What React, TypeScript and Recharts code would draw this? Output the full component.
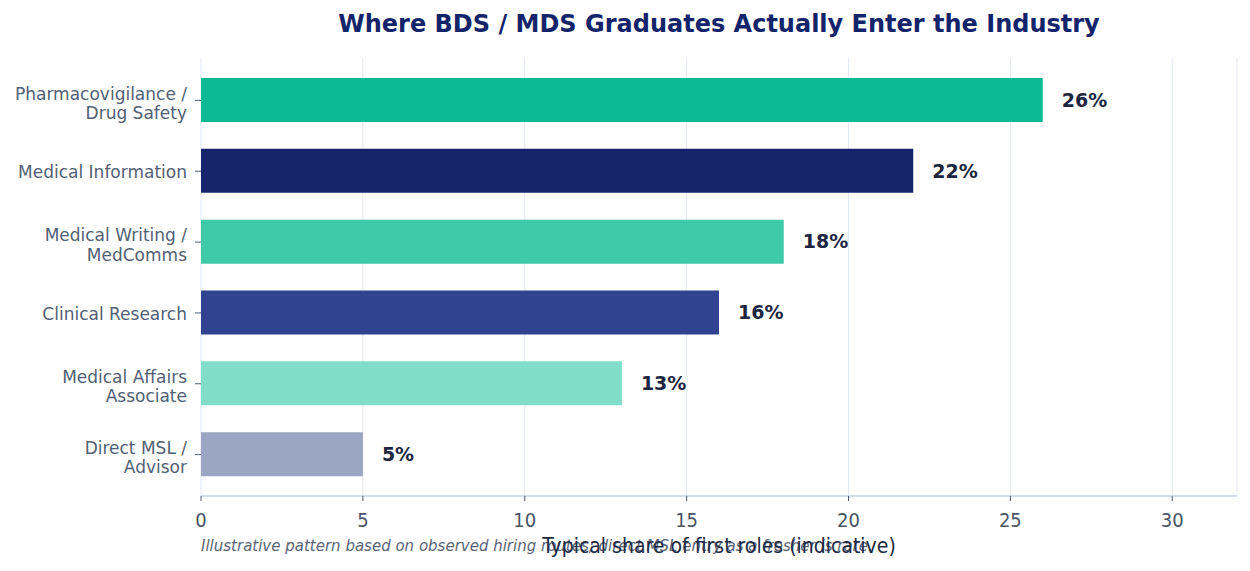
import React from "react";
import { BarChart, Bar, XAxis, YAxis, CartesianGrid, Cell, LabelList } from "recharts";

const roles = [
  "Pharmacovigilance /\nDrug Safety",
  "Medical Information",
  "Medical Writing /\nMedComms",
  "Clinical Research",
  "Medical Affairs\nAssociate",
  "Direct MSL /\nAdvisor",
];
const shares = [26, 22, 18, 16, 13, 5];
const barColors = ["#0bb995", "#16246b", "#3ec9a8", "#2f4391", "#7fddc8", "#9ba6c4"];
const xTicks = [0, 5, 10, 15, 20, 25, 30];

const data = roles.map((role, i) => ({ role, share: shares[i] }));

const W = 1250;
const H = 571;

const RoleTick = (props: any) => {
  const { x, y, payload } = props;
  const lines: string[] = String(payload.value).split("\n");
  const lh = 19.5;
  const start = -((lines.length - 1) * lh) / 2 + (lines.length > 1 ? 3 : 1);
  return (
    <g transform={`translate(${x},${y})`}>
      <text textAnchor="end" fill="#526075" fontSize={17} fontFamily="DejaVu Sans, sans-serif">
        {lines.map((l, i) => (
          <tspan key={i} x={0} y={start + i * lh} dy="0.35em">
            {l}
          </tspan>
        ))}
      </text>
    </g>
  );
};

export default function App() {
  return (
    <div style={{ position: "absolute", left: 0, top: 0, width: W, height: H, background: "#fff" }}>
      <div
        style={{
          position: "absolute",
          left: 201,
          width: 1036,
          top: 10,
          textAlign: "center",
          fontFamily: "DejaVu Sans, sans-serif",
          fontWeight: "bold",
          fontSize: 24,
          color: "#14246b",
        }}
      >
        Where BDS / MDS Graduates Actually Enter the Industry
      </div>
      <BarChart
        width={W}
        height={H}
        data={data}
        layout="vertical"
        margin={{ top: 58, right: 13, bottom: 0, left: 0 }}
        barCategoryGap={0}
      >
        <CartesianGrid horizontal={false} stroke="#e3e9f3" strokeWidth={1} />
        <XAxis
          type="number"
          domain={[0, 32]}
          ticks={xTicks}
          allowDataOverflow
          height={75}
          axisLine={{ stroke: "#c5d2e3", strokeWidth: 1.5 }}
          tickLine={{ stroke: "#4a5568" }}
          tickSize={5}
          tickMargin={12}
          tick={{ fill: "#4a5568", fontSize: 20, fontFamily: "DejaVu Sans Condensed, DejaVu Sans, sans-serif" }}
        />
        <YAxis
          type="category"
          dataKey="role"
          width={201}
          axisLine={false}
          tickLine={{ stroke: "#526075" }}
          tickSize={6}
          tickMargin={8}
          padding={{ top: 7, bottom: 6 }}
          tick={<RoleTick />}
          interval={0}
        />
        <Bar dataKey="share" barSize={44} isAnimationActive={false}>
          {data.map((d, i) => (
            <Cell key={d.role} fill={barColors[i]} />
          ))}
          <LabelList
            dataKey="share"
            position="right"
            offset={19}
            formatter={(v: any) => `${v}%`}
            fill="#1c2541"
            fontSize={19}
            fontWeight="bold"
            fontFamily="DejaVu Sans, sans-serif"
          />
        </Bar>
      </BarChart>
      <div
        style={{
          position: "absolute",
          left: 201,
          top: 537,
          fontFamily: "DejaVu Sans, sans-serif",
          fontStyle: "italic",
          fontSize: 15,
          color: "#5a6478",
          whiteSpace: "nowrap",
        }}
      >
        Illustrative pattern based on observed hiring routes; direct MSL entry as a fresher is rare.
      </div>
      <div
        style={{
          position: "absolute",
          left: 201,
          width: 1036,
          top: 534,
          textAlign: "center",
          fontFamily: "DejaVu Sans Condensed, DejaVu Sans, sans-serif",
          fontSize: 21,
          color: "#1e2a44",
          whiteSpace: "nowrap",
        }}
      >
        Typical share of first roles (indicative)
      </div>
    </div>
  );
}
